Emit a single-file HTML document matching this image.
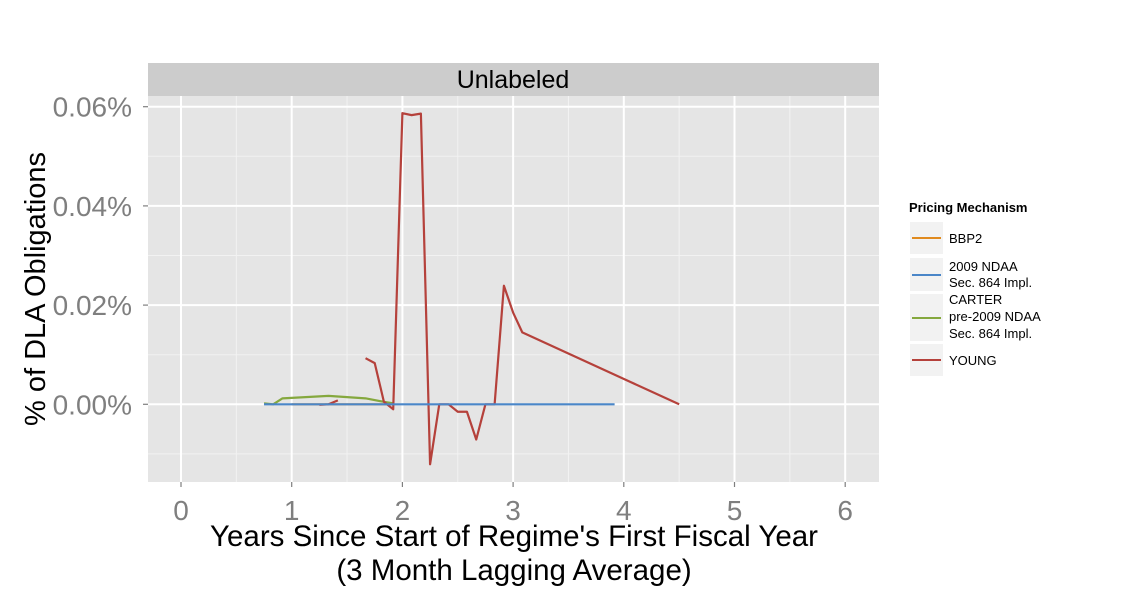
<!DOCTYPE html>
<html><head><meta charset="utf-8"><style>
body{margin:0;background:#fff;}
svg text{font-family:"Liberation Sans",Arial,sans-serif;}
</style></head><body>
<svg id="chart" width="1125" height="600" xmlns="http://www.w3.org/2000/svg">
<rect width="1125" height="600" fill="#fff"/>
<rect x="148" y="63" width="731" height="33" fill="#cccccc"/>
<text x="513" y="88" font-size="25" text-anchor="middle" fill="#000">Unlabeled</text>
<rect x="148" y="96" width="731" height="386" fill="#e5e5e5"/>
<g id="grid"></g>
<g id="series"></g>
<g id="axes"></g>
<text x="514" y="546" font-size="29.5" text-anchor="middle" fill="#000">Years Since Start of Regime's First Fiscal Year</text>
<text x="514" y="580" font-size="29.5" text-anchor="middle" fill="#000">(3 Month Lagging Average)</text>
<text transform="translate(45,289) rotate(-90)" font-size="29" text-anchor="middle" fill="#000">% of DLA Obligations</text>
<g>
<text x="909" y="212" font-size="13" font-weight="bold" fill="#000">Pricing Mechanism</text>
<rect x="910" y="222" width="33" height="32" fill="#f2f2f2"/>
<line x1="912" y1="238" x2="941" y2="238" stroke="#e08a1e" stroke-width="2"/>
<text x="949" y="243" font-size="13" fill="#000">BBP2</text>
<rect x="910" y="258" width="33" height="33" fill="#f2f2f2"/>
<line x1="912" y1="275" x2="941" y2="275" stroke="#4a86c8" stroke-width="2"/>
<text font-size="13" fill="#000"><tspan x="949" y="271">2009 NDAA</tspan><tspan x="949" y="287">Sec. 864 Impl.</tspan></text>
<rect x="910" y="294" width="33" height="47" fill="#f2f2f2"/>
<line x1="912" y1="318" x2="941" y2="318" stroke="#85a83e" stroke-width="2"/>
<text font-size="13" fill="#000"><tspan x="949" y="304">CARTER</tspan><tspan x="949" y="321">pre-2009 NDAA</tspan><tspan x="949" y="338">Sec. 864 Impl.</tspan></text>
<rect x="910" y="344" width="33" height="32" fill="#f2f2f2"/>
<line x1="912" y1="360" x2="941" y2="360" stroke="#b5413b" stroke-width="2"/>
<text x="949" y="365" font-size="13" fill="#000">YOUNG</text>
</g>
</svg>
<script>
const xTicks=[0,1,2,3,4,5,6];
const yTicks=[0,0.02,0.04,0.06];
const yTickLabels=["0.00%","0.02%","0.04%","0.06%"];
const bbp2X=[1.0,1.917];
const bbp2Y=[0,0];
const ndaaX=[0.75,3.917];
const ndaaY=[0,0];
const carterX=[0.75,0.833,0.917,1.0,1.333,1.667,1.833,1.917];
const carterY=[0.0002,0.0,0.0012,0.0013,0.0017,0.0012,0.0005,0.0002];
const youngAX=[1.25,1.333,1.417];
const youngAY=[-0.0001,0,0.0008];
const youngBX=[1.667,1.75,1.833,1.917,2.0,2.083,2.167,2.25,2.333,2.417,2.5,2.583,2.667,2.75,2.833,2.917,3.0,3.083,4.5];
const youngBY=[0.0093,0.0083,0.0005,-0.001,0.0587,0.0583,0.0586,-0.0121,0,0,-0.0015,-0.0015,-0.0071,0,0,0.0239,0.0185,0.0145,0];
const NS="http://www.w3.org/2000/svg";
const sx=v=>181+v*110.7;
const sy=v=>404.3-v/0.02*99.2;
const X0=148,X1=879,Y0=96,Y1=482;
function mk(tag,attrs,parent){const e=document.createElementNS(NS,tag);for(const k in attrs)e.setAttribute(k,attrs[k]);parent.appendChild(e);return e;}
const grid=document.getElementById('grid');
for(let i=0;i<xTicks.length-1;i++){
  const l=mk('line',{x1:sx(xTicks[i]+0.5),x2:sx(xTicks[i]+0.5),y1:Y0,y2:Y1,stroke:'#f2f2f2','stroke-width':1},grid);
  
  
}
for(let i=-1;i<yTicks.length;i++){
  const v=(i<0?-0.01:yTicks[i]+0.01);
  if(sy(v)<Y0)continue;
  const l=mk('line',{x1:X0,x2:X1,y1:sy(v),y2:sy(v),stroke:'#f2f2f2','stroke-width':1},grid);
  
  
}
const axes=document.getElementById('axes');
xTicks.forEach(t=>{
  const l=mk('line',{x1:sx(t),x2:sx(t),y1:Y0,y2:Y1,stroke:'#fff','stroke-width':2},grid);
  
  
  const tk=mk('line',{x1:sx(t),x2:sx(t),y1:Y1,y2:Y1+5,stroke:'#7f7f7f','stroke-width':1.2},axes);
  
  
  const tx=mk('text',{x:sx(t),y:520,'font-size':28,'text-anchor':'middle',fill:'#7f7f7f'},axes);
  tx.textContent=t;
  
  
});
yTicks.forEach((t,i)=>{
  const l=mk('line',{x1:X0,x2:X1,y1:sy(t),y2:sy(t),stroke:'#fff','stroke-width':2},grid);
  
  
  const tk=mk('line',{x1:X0-5,x2:X0,y1:sy(t),y2:sy(t),stroke:'#7f7f7f','stroke-width':1.2},axes);
  
  
  const tx=mk('text',{x:132,y:sy(t)+10,'font-size':28,'text-anchor':'end',fill:'#7f7f7f'},axes);
  tx.textContent=yTickLabels[i];
  
  
});
const series=document.getElementById('series');
function line(xs,ys,color,name){
  const p=mk('polyline',{points:xs.map((x,i)=>sx(x)+','+sy(ys[i])).join(' '),fill:'none',stroke:color,'stroke-width':2.2,'stroke-linejoin':'round'},series);
  
  
}
line(carterX,carterY,'#85a83e','series-carter');
line(bbp2X,bbp2Y,'#e08a1e','series-bbp2');
line(youngAX,youngAY,'#b5413b','series-young-early');
line(youngBX,youngBY,'#b5413b','series-young');
line(ndaaX,ndaaY,'#4a86c8','series-2009-ndaa');
</script>
</body></html>
